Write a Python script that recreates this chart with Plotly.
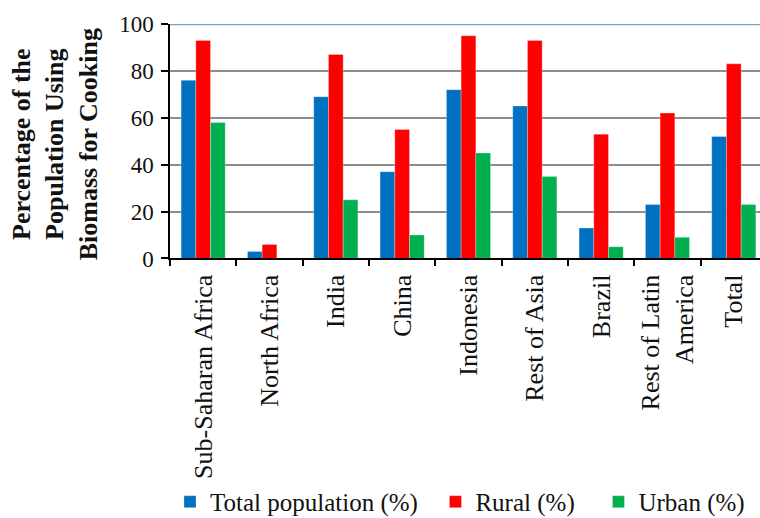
import plotly.graph_objects as go

# Share of population using biomass for cooking, by region
regions = [
    "Sub-Saharan Africa", "North Africa", "India", "China", "Indonesia",
    "Rest of Asia", "Brazil", "Rest of Latin<br>America", "Total",
]
total_pct = [76, 3, 69, 37, 72, 65, 13, 23, 52]
rural_pct = [93, 6, 87, 55, 95, 93, 53, 62, 83]
urban_pct = [58, 0, 25, 10, 45, 35, 5, 9, 23]

series_names = ["Total population (%)", "Rural (%)", "Urban (%)"]
series_colors = ["#0070C0", "#FF0000", "#00B050"]
y_ticks = [0, 20, 40, 60, 80, 100]

FONT = "'Liberation Serif', 'Times New Roman', serif"
NBSP = "\u00a0"
# extra spacing after each legend entry
legend_pad = [2, 3, 0]

fig = go.Figure()
for name, vals, col, pad in zip(series_names, [total_pct, rural_pct, urban_pct],
                                series_colors, legend_pad):
    fig.add_trace(go.Bar(
        x=regions, y=vals, name=name + NBSP * pad,
        marker=dict(color=col, line=dict(color="rgba(255,255,255,0.35)", width=0.8)),
    ))

fig.update_layout(
    width=760, height=518,
    margin=dict(l=170, r=0, t=24, b=257),
    paper_bgcolor="white", plot_bgcolor="white",
    barmode="group", bargap=0.335, bargroupgap=0,
    font=dict(family=FONT, color="#111111"),
    showlegend=True,
    legend=dict(
        orientation="h", x=0.0, xanchor="left",
        yref="container", y=0.031, yanchor="middle",
        font=dict(size=25, family=FONT, color="#111111"),
        traceorder="normal",
    ),
)

fig.update_xaxes(
    type="category",
    range=[-0.5, 8.395],
    tickangle=-90,
    tickson="boundaries",
    ticks="outside", ticklen=6, tickwidth=1.5, tickcolor="black",
    showline=True, linecolor="black", linewidth=1.5,
    showgrid=False,
    ticklabelstandoff=4,
    tickfont=dict(size=26, family=FONT, color="#111111"),
)

fig.update_yaxes(
    range=[0, 100],
    tickvals=y_ticks,
    ticks="outside", ticklen=7, tickwidth=1.5, tickcolor="black",
    showline=True, linecolor="black", linewidth=1.5,
    showgrid=True, gridcolor="#8C8C8C", gridwidth=1.5,
    zeroline=False,
    ticklabelstandoff=3,
    tickfont=dict(size=23, family=FONT, color="#111111"),
)

# light-blue top border line at 100
fig.add_shape(
    type="line", xref="paper", yref="y",
    x0=0, x1=1, y0=100, y1=100,
    line=dict(color="#7F9DCB", width=2.5),
)

# three-line bold axis title
fig.add_annotation(
    text="Percentage of the<br>Population Using<br>Biomass for Cooking",
    xref="paper", yref="paper",
    x=-0.195, y=0.487, xanchor="center", yanchor="middle",
    textangle=-90, showarrow=False, align="center",
    font=dict(size=26, family=FONT, color="#111111", weight="bold"),
)

fig.write_html("out.html")
